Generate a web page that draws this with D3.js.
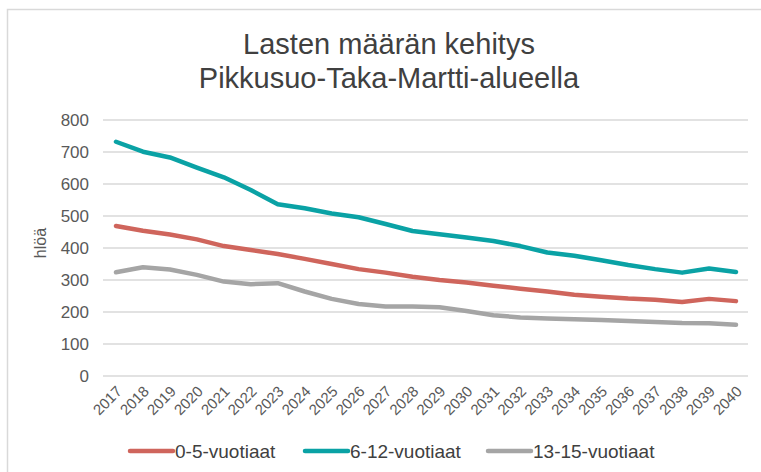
<!DOCTYPE html>
<html>
<head>
<meta charset="utf-8">
<script src="https://cdn.jsdelivr.net/npm/d3@7"></script>
<style>
  body { margin: 0; background: #fff; }
  text { font-family: "Liberation Sans", Arial, sans-serif; }
</style>
</head>
<body>
<svg id="chart" width="761" height="472"></svg>
<script>
const years = ["2017","2018","2019","2020","2021","2022","2023","2024","2025","2026","2027","2028",
  "2029","2030","2031","2032","2033","2034","2035","2036","2037","2038","2039","2040"];
const age0to5 = [469,454,442,427,406,394,381,366,350,334,323,310,300,292,282,273,264,254,248,242,238,231,241,234];
const age6to12 = [732,701,683,651,621,581,537,524,508,496,475,453,443,433,422,406,386,376,362,347,334,323,336,325];
const age13to15 = [324,340,333,316,295,287,290,264,241,225,217,217,215,203,190,183,180,177,175,172,169,166,165,160];
const yTicks = [0,100,200,300,400,500,600,700,800];

const series = [
  { name: "0-5-vuotiaat", values: age0to5, color: "#cf655c" },
  { name: "6-12-vuotiaat", values: age6to12, color: "#0aa2a5" },
  { name: "13-15-vuotiaat", values: age13to15, color: "#a5a5a5" }
];

const svg = d3.select("#chart");

// chart frame
svg.append("rect")
  .attr("x", 7.5).attr("y", 9.5)
  .attr("width", 800).attr("height", 500)
  .attr("fill", "#fff")
  .attr("stroke", "#d9d9d9")
  .attr("stroke-width", 1.5);

const x = d3.scalePoint().domain(years).range([116, 736]);
const y = d3.scaleLinear().domain([0, 800]).range([376, 120]);

// title
const title = svg.append("text")
  .attr("text-anchor", "middle")
  .attr("fill", "#404040")
  .attr("font-size", "29px");
title.append("tspan").attr("x", 389).attr("y", 54).text("Lasten määrän kehitys");
title.append("tspan").attr("x", 389).attr("y", 88).text("Pikkusuo-Taka-Martti-alueella");

// gridlines
svg.append("g")
  .selectAll("line")
  .data(yTicks)
  .join("line")
  .attr("x1", 103).attr("x2", 748)
  .attr("y1", d => y(d)).attr("y2", d => y(d))
  .attr("stroke", "#d9d9d9")
  .attr("stroke-width", 1.5);

// y axis labels
const yAxis = svg.append("g")
  .attr("transform", "translate(89,0)")
  .call(d3.axisLeft(y).tickValues(yTicks).tickSize(0).tickPadding(0));
yAxis.select(".domain").remove();
yAxis.selectAll("text")
  .attr("fill", "#595959")
  .attr("font-size", "17px")
  .attr("font-family", "Liberation Sans, Arial, sans-serif");

svg.append("text")
  .attr("transform", "translate(46,243) rotate(-90)")
  .attr("text-anchor", "middle")
  .attr("fill", "#595959")
  .attr("font-size", "16px")
  .text("hlöä");

// x axis labels
const xAxis = svg.append("g")
  .attr("transform", "translate(0,380)")
  .call(d3.axisBottom(x).tickSize(0).tickPadding(0));
xAxis.select(".domain").remove();
xAxis.selectAll("text")
  .attr("fill", "#595959")
  .attr("font-size", "15px")
  .attr("font-family", "Liberation Sans, Arial, sans-serif")
  .attr("text-anchor", "end")
  .attr("dy", "0.7em")
  .attr("transform", "translate(-1,5) rotate(-45)");

// lines
const line = d3.line()
  .x((d, i) => x(years[i]))
  .y(d => y(d));

svg.append("g")
  .selectAll("path")
  .data(series)
  .join("path")
  .attr("d", d => line(d.values))
  .attr("fill", "none")
  .attr("stroke", d => d.color)
  .attr("stroke-width", 4.5)
  .attr("stroke-linejoin", "round")
  .attr("stroke-linecap", "round");

// legend
const legendX = [130, 305, 488];
const legend = svg.append("g")
  .selectAll("g")
  .data(series)
  .join("g")
  .attr("transform", (d, i) => `translate(${legendX[i]},451)`);
legend.append("line")
  .attr("x1", 0).attr("x2", 43)
  .attr("stroke", d => d.color)
  .attr("stroke-width", 4.5)
  .attr("stroke-linecap", "round");
legend.append("text")
  .attr("x", 45)
  .attr("dy", "0.35em")
  .attr("fill", "#404040")
  .attr("font-size", "19px")
  .text(d => d.name);
</script>
</body>
</html>
